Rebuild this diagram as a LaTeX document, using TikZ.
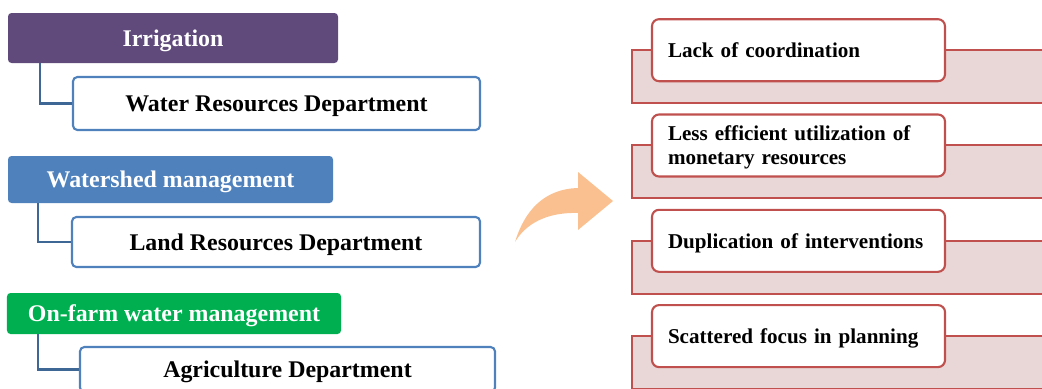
\documentclass[tikz,border=0pt]{standalone}
\usepackage{fontspec}
\setmainfont{Liberation Serif}
\definecolor{irrpurple}{HTML}{604A7B}
\definecolor{wshblue}{HTML}{4F81BD}
\definecolor{ofwgreen}{HTML}{00B050}
\definecolor{linkblue}{HTML}{3F6796}
\definecolor{probred}{HTML}{C0504D}
\definecolor{probpink}{RGB}{233,214,214}
\definecolor{arroworange}{HTML}{FAC090}
\begin{document}
\begin{tikzpicture}[font=\bfseries\fontsize{13.6}{15}\selectfont,
  headbox/.style={rounded corners=2pt,text=white,inner sep=0pt,text depth=0pt},
  deptbox/.style={draw=wshblue,line width=1.2pt,fill=white,rounded corners=2.5pt,inner sep=0pt,text depth=0pt},
  link/.style={draw=linkblue,line width=1.2pt},
  probbg/.style={draw=probred,fill=probpink,line width=1.2pt,minimum width=8.4cm,minimum height=1.06cm,inner sep=0pt},
  probbox/.style={draw=probred,fill=white,line width=1.2pt,rounded corners=4pt,minimum width=5.86cm,minimum height=1.24cm,
    text width=5.22cm,align=left,inner sep=0pt,font=\bfseries\fontsize{12}{13.7}\selectfont},
  oneline/.style={text depth=0pt},
  twoline/.style={text depth=14pt}]
  \useasboundingbox (0,0) rectangle (20.84,-7.76);
  \clip (0,0) rectangle (20.84,-7.76);

  % programmes and departments
  \node[headbox,fill=irrpurple,minimum width=6.6cm,minimum height=1.0cm] (irr) at (3.46,-.76) {Irrigation};
  \node[deptbox,minimum width=8.14cm,minimum height=1.06cm] (wrd) at (5.53,-2.07) {Water Resources Department};
  \node[headbox,fill=wshblue,minimum width=6.5cm,minimum height=.94cm] (wsh) at (3.41,-3.59) {Watershed management};
  \node[deptbox,minimum width=8.16cm,minimum height=1.0cm] (lrd) at (5.52,-4.84) {Land Resources Department};
  \node[headbox,fill=ofwgreen,minimum width=6.68cm,minimum height=.82cm] (ofw) at (3.48,-6.27) {On-farm water management};
  \node[deptbox,minimum width=8.3cm,minimum height=.9cm] (agd) at (5.75,-7.39) {Agriculture Department};

  \draw[link] (irr.south west) ++(.64,0) |- (wrd.west);
  \draw[link] (wsh.south west) ++(.6,0) |- (lrd.west);
  \draw[link] (ofw.south west) ++(.62,0) |- (agd.west);

  % curved arrow
  \fill[arroworange] (10.30,-4.84) .. controls (10.48,-4.25) and (10.85,-3.78) .. (11.56,-3.76)
    -- (11.56,-3.44) -- (12.26,-4.02) -- (11.56,-4.60) -- (11.56,-4.26)
    .. controls (10.9,-4.24) and (10.5,-4.5) .. cycle;

  % problems
  \foreach \i/\txt/\look in {1/{Lack of coordination}/oneline,2/{Less efficient utilization of\\monetary resources}/twoline,
      3/{Duplication of interventions}/oneline,4/{Scattered focus in planning}/oneline} {
    \node[probbg] (bg\i) at (16.84,{-1.53-1.906*(\i-1)}) {};
    \node[probbox,\look] (prob\i) at (15.97,{-1.004-1.906*(\i-1)}) {\txt};
  }
\end{tikzpicture}
\end{document}
